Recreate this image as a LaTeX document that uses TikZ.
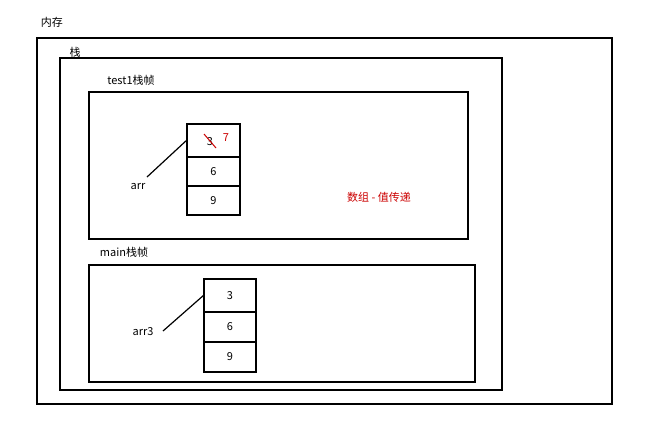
\documentclass[tikz,border=0pt]{standalone}
\usepackage{fontspec}
\setmainfont{Noto Sans CJK SC}
\begin{document}
\begin{tikzpicture}[x=1pt,y=-1pt,
  box/.style={draw,line width=1.2pt},
  cell/.style={draw,line width=1.2pt,minimum width=53pt,minimum height=30pt,inner sep=0pt,font=\fontsize{11}{13}\selectfont},
  lbl/.style={font=\fontsize{11}{13}\selectfont,inner sep=0pt}]
\useasboundingbox[fill=white] (0,0) rectangle (662,434);
\node[lbl] (mem) at (52,22) {内存};
\draw[box] (37,38) rectangle (612,404);
\node[lbl] (stk) at (75,52) {栈};
\draw[box] (60,58) rectangle (502,390);
\node[lbl] (t1) at (131,80) {test1栈帧};
\draw[box] (89,92) rectangle (468,239);
\node[cell,minimum height=33pt] (a1) at (213.5,140.5) {};
\node[lbl] at (210,142) {3};
\node[lbl,text=red!80!black] at (226,138) {7};
\draw[red!80!black,line width=1pt] (204,134) -- (216,148);
\node[cell,minimum height=29pt] (a2) at (213.5,171.5) {6};
\node[cell,minimum height=29pt] (a3) at (213.5,200.5) {9};
\node[lbl] (arr) at (138,187) {arr};
\coordinate (p1) at (147,177);
\draw[line width=1.2pt] (p1) -- (a1.west);
\node[lbl,text=red!80!black] (note) at (379,197) {数组 - 值传递};
\node[lbl] (mn) at (124,252) {main栈帧};
\draw[box] (89,265) rectangle (475,382);
\node[cell,minimum height=33pt,minimum width=52pt] (b1) at (230,295.5) {3};
\node[cell,minimum width=52pt] (b2) at (230,327) {6};
\node[cell,minimum width=52pt] (b3) at (230,357) {9};
\node[lbl] (arr3) at (143,332) {arr3};
\coordinate (p2) at (163,331);
\draw[line width=1.2pt] (p2) -- (b1.west);
\end{tikzpicture}
\end{document}
